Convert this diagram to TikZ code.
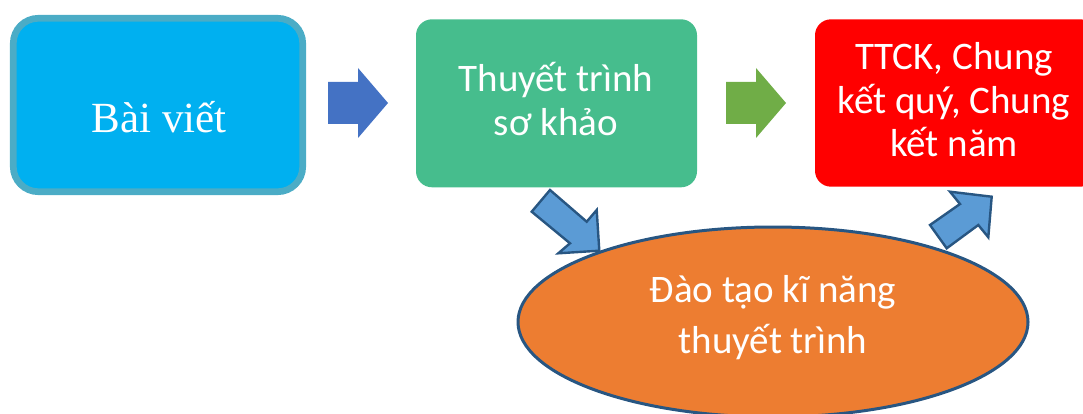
\documentclass[tikz,border=0pt]{standalone}
\usepackage{fontspec}
\usetikzlibrary{shapes.geometric}
\newfontfamily\cansans{Carlito}
\newfontfamily\canserif{Liberation Serif}
\definecolor{cyanfill}{HTML}{00B0F0}
\definecolor{cyanline}{HTML}{4BACC6}
\definecolor{greenbox}{HTML}{46BD8D}
\definecolor{redbox}{HTML}{FF0000}
\definecolor{orangefill}{HTML}{ED7D31}
\definecolor{darkline}{HTML}{285682}
\definecolor{arrblue}{HTML}{4472C4}
\definecolor{arrgreen}{HTML}{70AD47}
\definecolor{arrlight}{HTML}{5B9BD5}
\tikzset{
  boxshape/.style={rectangle, inner sep=0pt, outer sep=0pt},
  linetext/.style={anchor=base, inner sep=0pt, outer sep=0pt, text=white,
    font=\cansans\fontsize{39}{44}\selectfont},
  blockarrow/.style={line join=miter},
  diagarrow/.style={fill=arrlight, draw=darkline, line width=2.4pt, line join=miter},
}
\begin{document}
\begin{tikzpicture}[x=1pt,y=-1pt]
\useasboundingbox (0,0) rectangle (1083,414);
\clip (0,0) rectangle (1083,414);
% boxes
\node[boxshape, fill=cyanfill, draw=cyanline, line width=6.7pt, rounded corners=25pt,
  minimum width=289.4pt, minimum height=173.4pt] (bv) at (158,105) {};
\node[boxshape, fill=greenbox, rounded corners=16pt,
  minimum width=281pt, minimum height=168pt] (tt) at (556.5,103.3) {};
\node[boxshape, fill=redbox, rounded corners=16pt,
  minimum width=281pt, minimum height=167.4pt] (ck) at (955.5,103) {};
\node[ellipse, fill=orangefill, draw=darkline, line width=3pt, inner sep=0pt,
  minimum width=510pt, minimum height=190pt] (dt) at (773,322) {};
% texts
\node[anchor=base, inner sep=0pt, text=white, font=\canserif\fontsize{43}{50}\selectfont]
  (bvt) at (159,133) {Bài viết};
\node[linetext] (tt1) at (556,92) {Thuyết trình};
\node[linetext] (tt2) at (556,135.5) {sơ khảo};
\node[linetext] (ck1) at (954,70) {TTCK, Chung};
\node[linetext] (ck2) at (954,113.5) {kết quý, Chung};
\node[linetext] (ck3) at (954,157) {kết năm};
\node[linetext] (dt1) at (773,302) {Đào tạo kĩ năng};
\node[linetext] (dt2) at (773,353.5) {thuyết trình};
% block arrows
\fill[arrblue, blockarrow] (328,82) -- (358,82) -- (358,68) -- (388,103) -- (358,138) -- (358,124) -- (328,124) -- cycle;
\fill[arrgreen, blockarrow] (726,82) -- (756,82) -- (756,68) -- (786,103) -- (756,138) -- (756,124) -- (726,124) -- cycle;
\draw[diagarrow] (550,190) -- (586.7,221.7) -- (596.7,210) -- (599.3,250.7) -- (558.3,253.3) -- (570,243.3) -- (531.7,211.7) -- cycle;
\draw[diagarrow] (930,225) -- (946.7,248.3) -- (978.3,225) -- (988.3,237.3) -- (991.7,196.7) -- (950,191.7) -- (960,204) -- cycle;
\end{tikzpicture}
\end{document}
